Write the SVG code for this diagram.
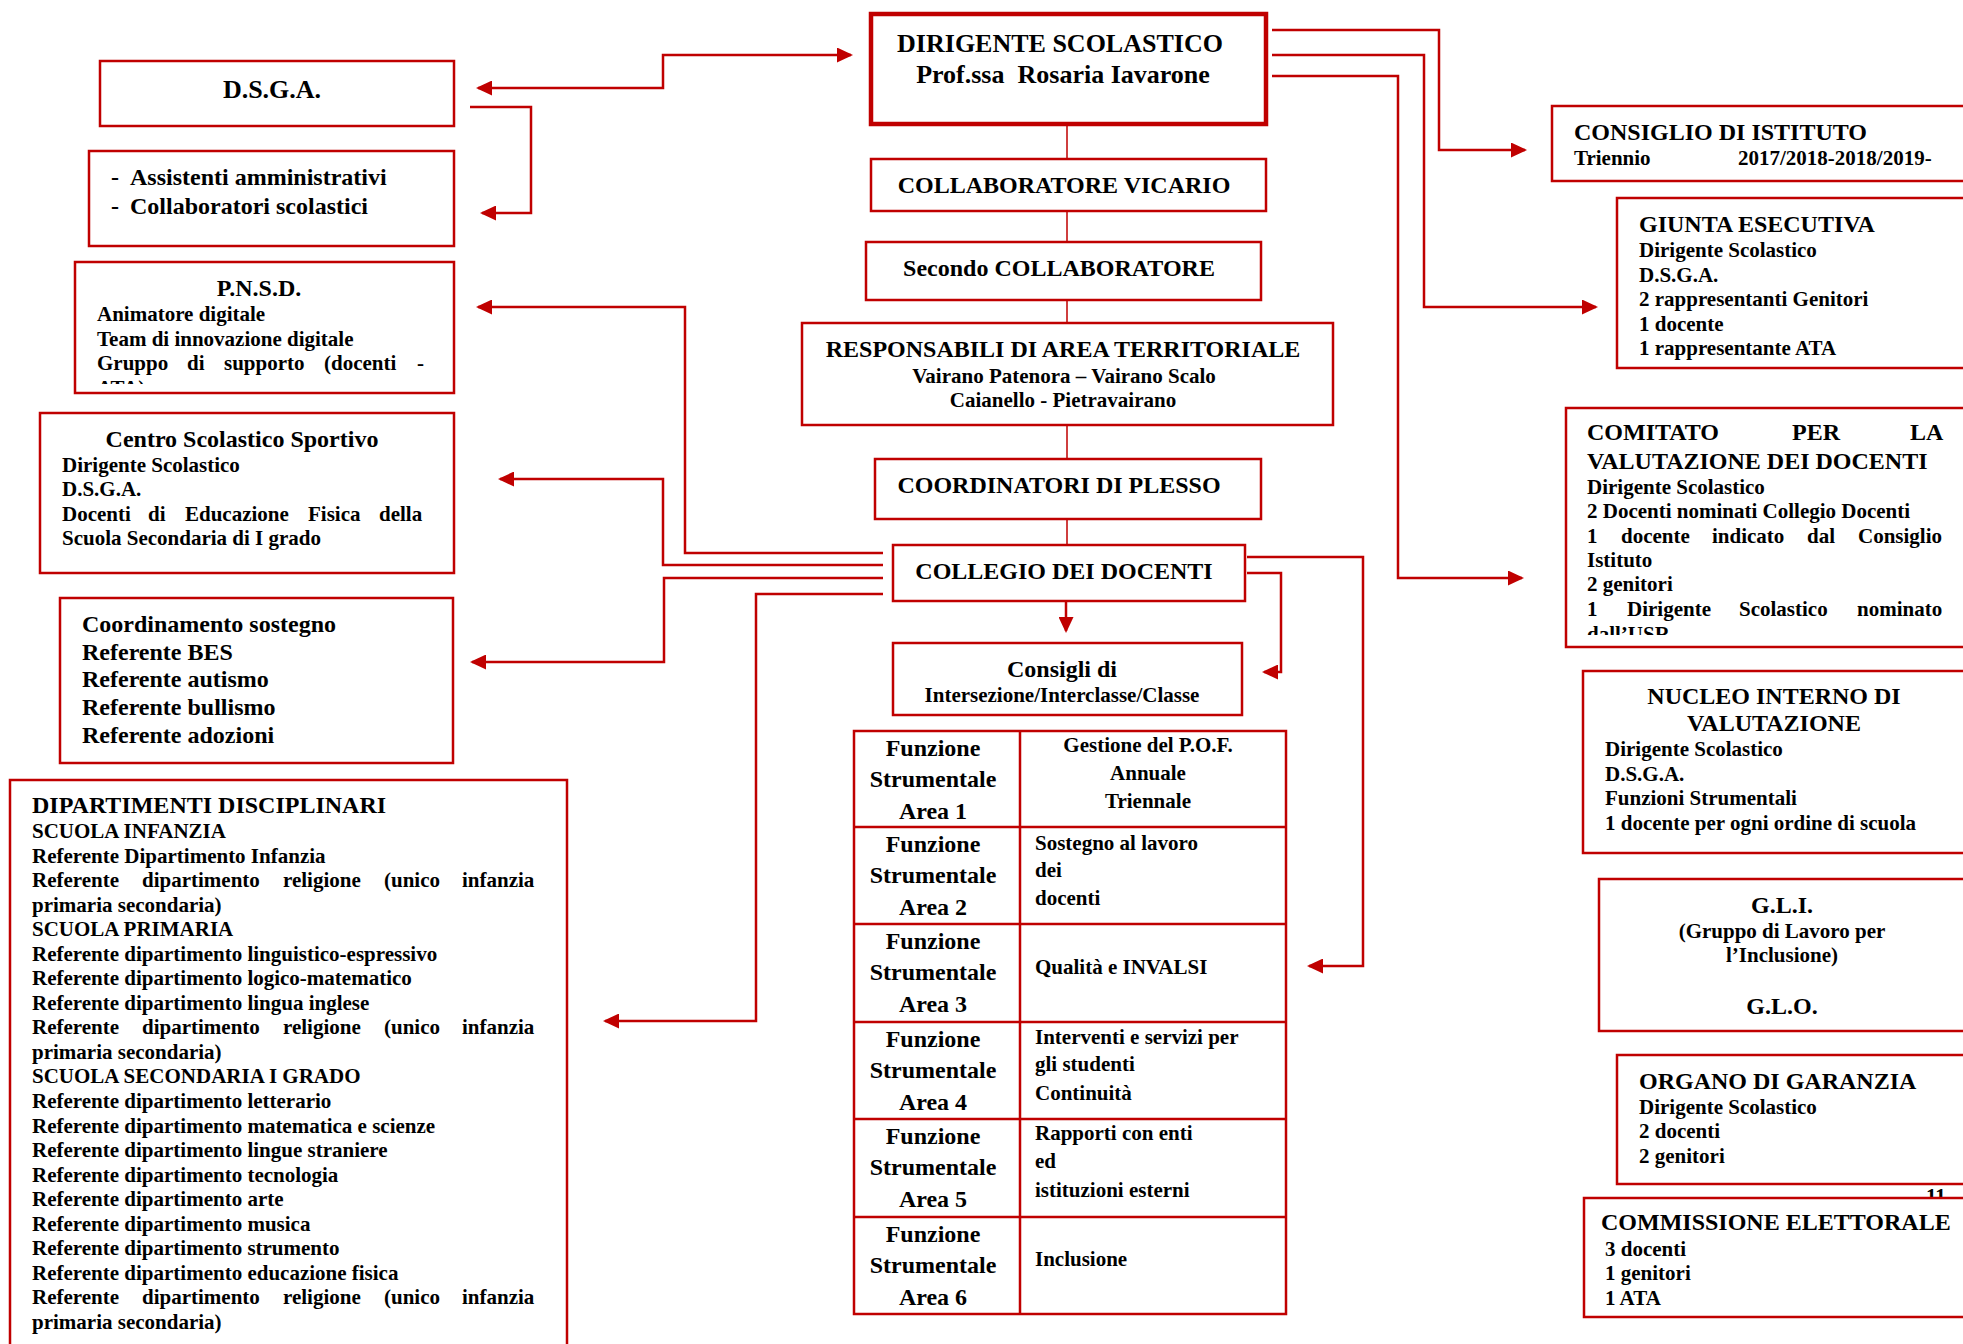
<svg xmlns="http://www.w3.org/2000/svg" width="1963" height="1344" viewBox="0 0 1963 1344">
<style>
.box{fill:#fff;stroke:#C00000;stroke-width:2.5}
.thick{stroke-width:4.5}
.c{fill:none;stroke:#C00000;stroke-width:2.5}
.spine{fill:none;stroke:#C00000;stroke-width:1.5}
.tl{fill:none;stroke:#C00000;stroke-width:2.5}
text{font-family:"Liberation Serif","Times New Roman",serif;font-weight:bold;fill:#000}
.t26{font-size:26px}
.t24{font-size:24px}
.t21{font-size:21px}
.mid{text-anchor:middle}
</style>
<defs>
<marker id="ah" markerUnits="userSpaceOnUse" markerWidth="16" markerHeight="15" viewBox="0 0 16 15" refX="14" refY="7.5" orient="auto-start-reverse">
<path d="M0,0 L16,7.5 L0,15 z" fill="#C00000"/>
</marker>
<clipPath id="clipPnsd"><rect x="76" y="263" width="376" height="121"/></clipPath>
<clipPath id="clipComitato"><rect x="1567" y="409" width="400" height="226"/></clipPath>
</defs>

<g id="connectors">
<path class="c" d="M478,88 H663 V55 H851" marker-start="url(#ah)" marker-end="url(#ah)"/>
<path class="c" d="M470,107 H531 V213 H482" marker-end="url(#ah)"/>
<path class="c" d="M1272,30 H1439 V150 H1525" marker-end="url(#ah)"/>
<path class="c" d="M1272,55 H1424 V307 H1596" marker-end="url(#ah)"/>
<path class="c" d="M1272,76 H1398 V578 H1522" marker-end="url(#ah)"/>
<path class="c" d="M883,553 H685 V307 H478" marker-end="url(#ah)"/>
<path class="c" d="M883,565 H663 V479 H500" marker-end="url(#ah)"/>
<path class="c" d="M883,578 H664 V662 H472" marker-end="url(#ah)"/>
<path class="c" d="M883,594 H756 V1021 H605" marker-end="url(#ah)"/>
<path class="c" d="M1247,557 H1363 V966 H1309" marker-end="url(#ah)"/>
<path class="c" d="M1247,573 H1281 V672 H1264" marker-end="url(#ah)"/>
<path class="c" d="M1066,601 V631" marker-end="url(#ah)"/>
<path class="spine" d="M1067,124 V159 M1067,211 V242 M1067,300 V323 M1067,425 V459 M1067,519 V545"/>
</g>

<g id="dirigente">
<rect class="box thick" x="871" y="14" width="395" height="110"/>
<text class="t26 mid" x="1060" y="52">DIRIGENTE SCOLASTICO</text>
<text class="t26 mid" x="1063" y="83" xml:space="preserve">Prof.ssa  Rosaria Iavarone</text>
</g>

<g id="vicario">
<rect class="box" x="871" y="159" width="395" height="52"/>
<text class="t24 mid" x="1064" y="193">COLLABORATORE VICARIO</text>
</g>

<g id="secondo">
<rect class="box" x="866" y="242" width="395" height="58"/>
<text class="t24 mid" x="1059" y="276">Secondo COLLABORATORE</text>
</g>

<g id="responsabili">
<rect class="box" x="802" y="323" width="531" height="102"/>
<text class="t24 mid" x="1063" y="357">RESPONSABILI DI AREA TERRITORIALE</text>
<text class="t21 mid" x="1064" y="383">Vairano Patenora – Vairano Scalo</text>
<text class="t21 mid" x="1063" y="407">Caianello - Pietravairano</text>
</g>

<g id="coordinatori">
<rect class="box" x="875" y="459" width="386" height="60"/>
<text class="t24 mid" x="1059" y="493">COORDINATORI DI PLESSO</text>
</g>

<g id="collegio">
<rect class="box" x="893" y="545" width="352" height="56"/>
<text class="t24 mid" x="1064" y="579">COLLEGIO DEI DOCENTI</text>
</g>

<g id="consigli">
<rect class="box" x="893" y="643" width="349" height="72"/>
<text class="t24 mid" x="1062" y="677">Consigli di</text>
<text class="t21 mid" x="1062" y="702">Intersezione/Interclasse/Classe</text>
</g>

<g id="funzioni-strumentali">
<rect class="tl" x="854" y="731" width="432" height="583"/>
<path class="tl" d="M1020,731 V1314 M854,827 H1286 M854,924 H1286 M854,1022 H1286 M854,1119 H1286 M854,1217 H1286"/>
<text class="t24 mid" x="933" y="756">Funzione</text>
<text class="t24 mid" x="933" y="787">Strumentale</text>
<text class="t24 mid" x="933" y="819">Area 1</text>
<text class="t24 mid" x="933" y="852">Funzione</text>
<text class="t24 mid" x="933" y="883">Strumentale</text>
<text class="t24 mid" x="933" y="915">Area 2</text>
<text class="t24 mid" x="933" y="949">Funzione</text>
<text class="t24 mid" x="933" y="980">Strumentale</text>
<text class="t24 mid" x="933" y="1012">Area 3</text>
<text class="t24 mid" x="933" y="1047">Funzione</text>
<text class="t24 mid" x="933" y="1078">Strumentale</text>
<text class="t24 mid" x="933" y="1110">Area 4</text>
<text class="t24 mid" x="933" y="1144">Funzione</text>
<text class="t24 mid" x="933" y="1175">Strumentale</text>
<text class="t24 mid" x="933" y="1207">Area 5</text>
<text class="t24 mid" x="933" y="1242">Funzione</text>
<text class="t24 mid" x="933" y="1273">Strumentale</text>
<text class="t24 mid" x="933" y="1305">Area 6</text>
<text class="t21 mid" x="1148" y="752">Gestione del P.O.F.</text>
<text class="t21 mid" x="1148" y="780">Annuale</text>
<text class="t21 mid" x="1148" y="808">Triennale</text>
<text class="t21" x="1035" y="850">Sostegno al lavoro</text>
<text class="t21" x="1035" y="877">dei</text>
<text class="t21" x="1035" y="905">docenti</text>
<text class="t21" x="1035" y="974">Qualità e INVALSI</text>
<text class="t21" x="1035" y="1044">Interventi e servizi per</text>
<text class="t21" x="1035" y="1071">gli studenti</text>
<text class="t21" x="1035" y="1100">Continuità</text>
<text class="t21" x="1035" y="1140">Rapporti con enti</text>
<text class="t21" x="1035" y="1168">ed</text>
<text class="t21" x="1035" y="1197">istituzioni esterni</text>
<text class="t21" x="1035" y="1266">Inclusione</text>
</g>

<g id="dsga">
<rect class="box" x="100" y="61" width="354" height="65"/>
<text class="t26 mid" x="272" y="98">D.S.G.A.</text>
</g>

<g id="assistenti">
<rect class="box" x="89" y="151" width="365" height="95"/>
<text class="t24" x="111" y="185">-</text>
<text class="t24" x="130" y="185">Assistenti amministrativi</text>
<text class="t24" x="111" y="214">-</text>
<text class="t24" x="130" y="214">Collaboratori scolastici</text>
</g>

<g id="pnsd">
<rect class="box" x="75" y="262" width="379" height="131"/>
<text class="t24 mid" x="259" y="296">P.N.S.D.</text>
<text class="t21" x="97" y="321">Animatore digitale</text>
<text class="t21" x="97" y="346">Team di innovazione digitale</text>
<text class="t21" y="370"><tspan x="97">Gruppo</tspan><tspan x="187">di</tspan><tspan x="224">supporto</tspan><tspan x="324">(docenti</tspan><tspan x="417">-</tspan></text>
<text class="t21" x="97" y="395" clip-path="url(#clipPnsd)">ATA)</text>
</g>

<g id="centro-sportivo">
<rect class="box" x="40" y="413" width="414" height="160"/>
<text class="t24 mid" x="242" y="447">Centro Scolastico Sportivo</text>
<text class="t21" x="62" y="472">Dirigente Scolastico</text>
<text class="t21" x="62" y="496">D.S.G.A.</text>
<text class="t21" y="521"><tspan x="62">Docenti</tspan><tspan x="148">di</tspan><tspan x="185">Educazione</tspan><tspan x="308">Fisica</tspan><tspan x="379">della</tspan></text>
<text class="t21" x="62" y="545">Scuola Secondaria di I grado</text>
</g>

<g id="coordinamento">
<rect class="box" x="60" y="598" width="393" height="165"/>
<text class="t24" x="82" y="632">Coordinamento sostegno</text>
<text class="t24" x="82" y="660">Referente BES</text>
<text class="t24" x="82" y="687">Referente autismo</text>
<text class="t24" x="82" y="715">Referente bullismo</text>
<text class="t24" x="82" y="743">Referente adozioni</text>
</g>

<g id="dipartimenti">
<rect class="box" x="10" y="780" width="557" height="590"/>
<text class="t24" x="32" y="813">DIPARTIMENTI DISCIPLINARI</text>
<text class="t21" x="32" y="838">SCUOLA INFANZIA</text>
<text class="t21" x="32" y="862.5">Referente Dipartimento Infanzia</text>
<text class="t21" y="887"><tspan x="32">Referente</tspan><tspan x="142">dipartimento</tspan><tspan x="283">religione</tspan><tspan x="384">(unico</tspan><tspan x="462">infanzia</tspan></text>
<text class="t21" x="32" y="911.6">primaria secondaria)</text>
<text class="t21" x="32" y="936.2">SCUOLA PRIMARIA</text>
<text class="t21" x="32" y="960.7">Referente dipartimento linguistico-espressivo</text>
<text class="t21" x="32" y="985.2">Referente dipartimento logico-matematico</text>
<text class="t21" x="32" y="1009.8">Referente dipartimento lingua inglese</text>
<text class="t21" y="1034.3"><tspan x="32">Referente</tspan><tspan x="142">dipartimento</tspan><tspan x="283">religione</tspan><tspan x="384">(unico</tspan><tspan x="462">infanzia</tspan></text>
<text class="t21" x="32" y="1058.9">primaria secondaria)</text>
<text class="t21" x="32" y="1083.4">SCUOLA SECONDARIA I GRADO</text>
<text class="t21" x="32" y="1108">Referente dipartimento letterario</text>
<text class="t21" x="32" y="1132.5">Referente dipartimento matematica e scienze</text>
<text class="t21" x="32" y="1157">Referente dipartimento lingue straniere</text>
<text class="t21" x="32" y="1181.6">Referente dipartimento tecnologia</text>
<text class="t21" x="32" y="1206">Referente dipartimento arte</text>
<text class="t21" x="32" y="1230.6">Referente dipartimento musica</text>
<text class="t21" x="32" y="1255.2">Referente dipartimento strumento</text>
<text class="t21" x="32" y="1279.8">Referente dipartimento educazione fisica</text>
<text class="t21" y="1304.3"><tspan x="32">Referente</tspan><tspan x="142">dipartimento</tspan><tspan x="283">religione</tspan><tspan x="384">(unico</tspan><tspan x="462">infanzia</tspan></text>
<text class="t21" x="32" y="1328.9">primaria secondaria)</text>
</g>

<g id="consiglio-istituto">
<rect class="box" x="1552" y="106" width="430" height="75"/>
<text class="t24" x="1574" y="140">CONSIGLIO DI ISTITUTO</text>
<text class="t21" x="1574" y="165">Triennio</text>
<text class="t21" x="1738" y="165">2017/2018-2018/2019-</text>
</g>

<g id="giunta">
<rect class="box" x="1617" y="198" width="365" height="170"/>
<text class="t24" x="1639" y="232">GIUNTA ESECUTIVA</text>
<text class="t21" x="1639" y="257">Dirigente Scolastico</text>
<text class="t21" x="1639" y="282">D.S.G.A.</text>
<text class="t21" x="1639" y="306">2 rappresentanti Genitori</text>
<text class="t21" x="1639" y="331">1 docente</text>
<text class="t21" x="1639" y="355">1 rappresentante ATA</text>
</g>

<g id="comitato">
<rect class="box" x="1566" y="408" width="416" height="239"/>
<text class="t24" y="440"><tspan x="1587">COMITATO</tspan><tspan x="1792">PER</tspan><tspan x="1910">LA</tspan></text>
<text class="t24" x="1587" y="469">VALUTAZIONE DEI DOCENTI</text>
<text class="t21" x="1587" y="494">Dirigente Scolastico</text>
<text class="t21" x="1587" y="518">2 Docenti nominati Collegio Docenti</text>
<text class="t21" y="543"><tspan x="1587">1</tspan><tspan x="1621">docente</tspan><tspan x="1712">indicato</tspan><tspan x="1807">dal</tspan><tspan x="1858">Consiglio</tspan></text>
<text class="t21" x="1587" y="567">Istituto</text>
<text class="t21" x="1587" y="591">2 genitori</text>
<text class="t21" y="616"><tspan x="1587">1</tspan><tspan x="1627">Dirigente</tspan><tspan x="1739">Scolastico</tspan><tspan x="1857">nominato</tspan></text>
<text class="t21" x="1587" y="641" clip-path="url(#clipComitato)">dall’USR</text>
</g>

<g id="nucleo">
<rect class="box" x="1583" y="671" width="399" height="182"/>
<text class="t24 mid" x="1774" y="704">NUCLEO INTERNO DI</text>
<text class="t24 mid" x="1774" y="731">VALUTAZIONE</text>
<text class="t21" x="1605" y="756">Dirigente Scolastico</text>
<text class="t21" x="1605" y="781">D.S.G.A.</text>
<text class="t21" x="1605" y="805">Funzioni Strumentali</text>
<text class="t21" x="1605" y="830">1 docente per ogni ordine di scuola</text>
</g>

<g id="gli">
<rect class="box" x="1599" y="879" width="383" height="152"/>
<text class="t24 mid" x="1782" y="913">G.L.I.</text>
<text class="t21 mid" x="1782" y="938">(Gruppo di Lavoro per</text>
<text class="t21 mid" x="1782" y="962">l’Inclusione)</text>
<text class="t24 mid" x="1782" y="1014">G.L.O.</text>
</g>

<g id="organo-garanzia">
<rect class="box" x="1617" y="1055" width="365" height="129"/>
<text class="t24" x="1639" y="1089">ORGANO DI GARANZIA</text>
<text class="t21" x="1639" y="1114">Dirigente Scolastico</text>
<text class="t21" x="1639" y="1138">2 docenti</text>
<text class="t21" x="1639" y="1163">2 genitori</text>
</g>

<text class="t21" x="1926" y="1203">11</text>

<g id="commissione">
<rect class="box" x="1584" y="1198" width="398" height="119"/>
<text class="t24" x="1601" y="1230">COMMISSIONE ELETTORALE</text>
<text class="t21" x="1605" y="1256">3 docenti</text>
<text class="t21" x="1605" y="1280">1 genitori</text>
<text class="t21" x="1605" y="1305">1 ATA</text>
</g>
</svg>
